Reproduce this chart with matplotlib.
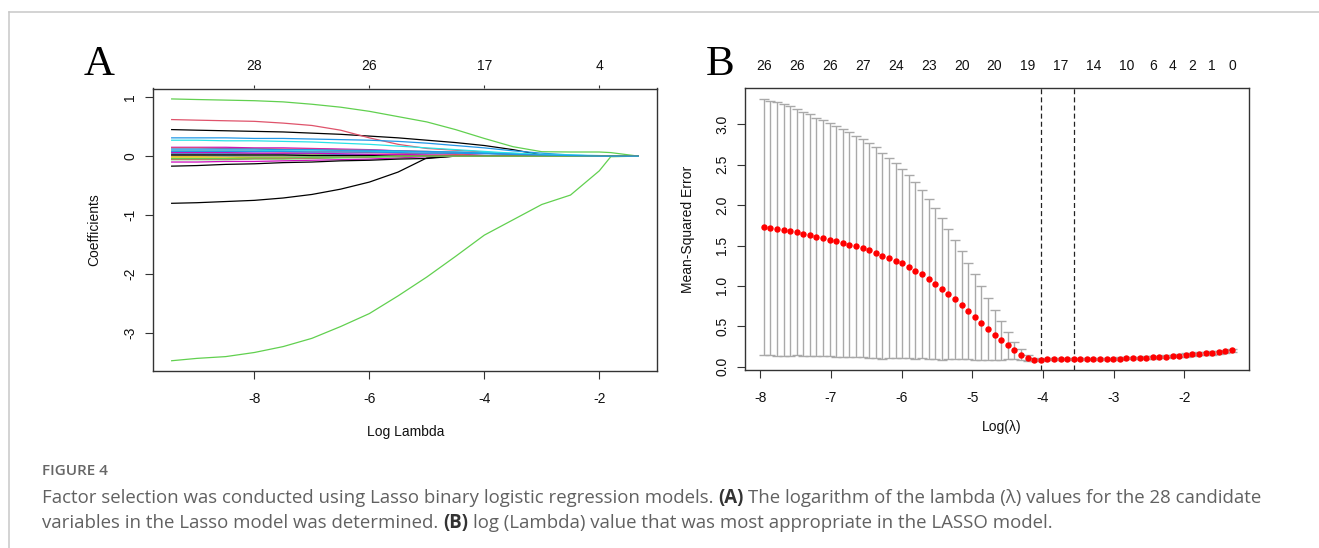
import numpy as np
import matplotlib
matplotlib.use('Agg')
import matplotlib.pyplot as plt
from matplotlib.lines import Line2D
from matplotlib.transforms import blended_transform_factory

W, H = 1319, 548

# ---------------- panel A : coefficient paths ----------------
knots = [-9.44, -9.0, -8.5, -8.0, -7.5, -7.0, -6.5, -6.0, -5.5, -5.0,
         -4.5, -4.0, -3.5, -3.0, -2.5, -2.0, -1.8, -1.32]

coef_paths = [
    [0.45, 0.44, 0.43, 0.42, 0.41, 0.39, 0.37, 0.34, 0.31, 0.27, 0.23, 0.18, 0.11, 0.02, 0, 0, 0, 0],
    [0.62, 0.61, 0.60, 0.59, 0.56, 0.52, 0.44, 0.31, 0.20, 0.13, 0.10, 0.07, 0.03, 0, 0, 0, 0, 0],
    [0.97, 0.96, 0.95, 0.94, 0.92, 0.88, 0.83, 0.76, 0.67, 0.58, 0.45, 0.30, 0.16, 0.075, 0.07, 0.07, 0.06, 0],
    [0.31, 0.31, 0.31, 0.30, 0.30, 0.29, 0.28, 0.27, 0.25, 0.22, 0.18, 0.14, 0.09, 0.05, 0.02, 0, 0, 0],
    [0.27, 0.27, 0.26, 0.26, 0.25, 0.24, 0.22, 0.20, 0.17, 0.14, 0.11, 0.08, 0.05, 0.02, 0, 0, 0, 0],
    [0.15, 0.15, 0.15, 0.14, 0.14, 0.13, 0.12, 0.11, 0.09, 0.07, 0.04, 0.01, 0, 0, 0, 0, 0, 0],
    [0.05, 0.05, 0.05, 0.04, 0.04, 0.03, 0.02, 0.01, 0, 0, 0, 0, 0, 0, 0, 0, 0, 0],
    [0.03, 0.03, 0.03, 0.02, 0.02, 0.01, 0, 0, 0, 0, 0, 0, 0, 0, 0, 0, 0, 0],
    [-0.80, -0.79, -0.77, -0.75, -0.71, -0.65, -0.56, -0.44, -0.27, -0.03, 0, 0, 0, 0, 0, 0, 0, 0],
    [0.14, 0.14, 0.13, 0.13, 0.12, 0.12, 0.11, 0.10, 0.09, 0.08, 0.06, 0.05, 0.03, 0.01, 0, 0, 0, 0],
    [-3.47, -3.43, -3.40, -3.33, -3.23, -3.09, -2.89, -2.67, -2.37, -2.05, -1.70, -1.34, -1.08, -0.82, -0.66, -0.25, -0.01, 0],
    [0.05, 0.05, 0.05, 0.05, 0.04, 0.04, 0.03, 0.03, 0.02, 0.01, 0, 0, 0, 0, 0, 0, 0, 0],
    [0.10, 0.10, 0.10, 0.10, 0.09, 0.09, 0.09, 0.08, 0.08, 0.07, 0.07, 0.06, 0.05, 0.03, 0.02, 0.01, 0, 0],
    [-0.10, -0.10, -0.09, -0.09, -0.08, -0.07, -0.06, -0.05, -0.03, -0.01, 0, 0, 0, 0, 0, 0, 0, 0],
    [-0.03, -0.03, -0.03, -0.02, -0.02, -0.01, 0, 0, 0, 0, 0, 0, 0, 0, 0, 0, 0, 0],
    [0.02, 0.02, 0.01, 0.01, 0, 0, 0, 0, 0, 0, 0, 0, 0, 0, 0, 0, 0, 0],
    [-0.17, -0.16, -0.14, -0.13, -0.11, -0.10, -0.08, -0.07, -0.05, -0.04, 0, 0, 0, 0, 0, 0, 0, 0],
    [0.08, 0.08, 0.08, 0.08, 0.07, 0.07, 0.07, 0.06, 0.05, 0.04, 0.03, 0.01, 0, 0, 0, 0, 0, 0],
    [-0.06, -0.06, -0.06, -0.05, -0.05, -0.04, -0.03, -0.02, -0.01, 0, 0, 0, 0, 0, 0, 0, 0, 0],
    [0.12, 0.12, 0.12, 0.12, 0.11, 0.11, 0.10, 0.10, 0.09, 0.08, 0.07, 0.05, 0.03, 0.01, 0, 0, 0, 0],
    [0.01, 0.01, 0.01, 0.01, 0.01, 0, 0, 0, 0, 0, 0, 0, 0, 0, 0, 0, 0, 0],
    [0.06, 0.06, 0.06, 0.05, 0.05, 0.05, 0.04, 0.03, 0.03, 0.02, 0.01, 0, 0, 0, 0, 0, 0, 0],
    [-0.01, -0.01, -0.01, 0, 0, 0, 0, 0, 0, 0, 0, 0, 0, 0, 0, 0, 0, 0],
    [0.01, 0.01, 0, 0, 0, 0, 0, 0, 0, 0, 0, 0, 0, 0, 0, 0, 0, 0],
    [0.02, 0.02, 0.02, 0.02, 0.02, 0.01, 0.01, 0.01, 0, 0, 0, 0, 0, 0, 0, 0, 0, 0],
    [-0.05, -0.05, -0.05, -0.04, -0.04, -0.03, -0.02, -0.01, 0, 0, 0, 0, 0, 0, 0, 0, 0, 0],
    [-0.04, -0.04, -0.04, -0.03, -0.03, -0.02, -0.02, -0.01, 0, 0, 0, 0, 0, 0, 0, 0, 0, 0],
    [0.08, 0.08, 0.08, 0.08, 0.08, 0.07, 0.07, 0.07, 0.06, 0.05, 0.05, 0.04, 0.03, 0.02, 0.01, 0, 0, 0],
]

ticks_a = [-8, -6, -4, -2]
df_a = [28, 26, 17, 4]

# ---------------- panel B : cross validation ----------------
# glmnet lambda path is evenly spaced in log scale
log_lambda = np.linspace(-7.953, -1.325, 72)

cv_mse = [1.729, 1.717, 1.705, 1.688, 1.675, 1.663, 1.646, 1.626, 1.605, 1.589,
          1.572, 1.552, 1.531, 1.510, 1.490, 1.465, 1.440, 1.411, 1.374, 1.345,
          1.312, 1.280, 1.238, 1.188, 1.144, 1.085, 1.027, 0.962, 0.900, 0.834,
          0.760, 0.693, 0.615, 0.541, 0.467, 0.396, 0.327, 0.264, 0.203, 0.149,
          0.111, 0.087, 0.086, 0.090, 0.091, 0.091, 0.092, 0.094, 0.095, 0.095,
          0.095, 0.096, 0.098, 0.099, 0.101, 0.104, 0.107, 0.110, 0.112, 0.116,
          0.120, 0.124, 0.132, 0.137, 0.145, 0.153, 0.161, 0.165, 0.170, 0.178,
          0.190, 0.203]

cv_sd = [1.580, 1.575, 1.567, 1.559, 1.547, 1.522, 1.510, 1.497, 1.477, 1.460,
         1.440, 1.427, 1.411, 1.395, 1.369, 1.349, 1.329, 1.304, 1.275, 1.242,
         1.209, 1.167, 1.135, 1.094, 1.039, 0.995, 0.937, 0.878, 0.808, 0.734,
         0.668, 0.594, 0.528, 0.454, 0.383, 0.310, 0.243, 0.170, 0.107, 0.066,
         0.035, 0.015, 0.012, 0.012, 0.012, 0.012, 0.012, 0.012, 0.013, 0.013,
         0.013, 0.013, 0.014, 0.014, 0.014, 0.015, 0.015, 0.015, 0.016, 0.016,
         0.017, 0.017, 0.018, 0.018, 0.019, 0.019, 0.020, 0.020, 0.021, 0.021,
         0.022, 0.022]

idx_min = 42
idx_1se = 47
nz_idx = [0, 5, 10, 15, 20, 25, 30, 35, 40, 45, 50, 55, 59, 62, 65, 68, 71]
nz_lab = [26, 26, 26, 27, 24, 23, 20, 20, 19, 17, 14, 10, 6, 4, 2, 1, 0]

r_pal = ['black', '#DF536B', '#61D04F', '#2297E6', '#28E2E5', '#CD0BBC', '#F5C710', '#9E9E9E']

plt.rcParams['font.family'] = ['Liberation Sans', 'DejaVu Sans']
plt.rcParams['font.size'] = 10
plt.rcParams['axes.unicode_minus'] = False

fig = plt.figure(figsize=(W / 100, H / 100), dpi=100)


def style_axes(ax):
    for s in ax.spines.values():
        s.set_color('#333333')
        s.set_linewidth(1.0)
    ax.tick_params(axis='both', direction='out', length=5.5, width=0.8, color='#333333',
                   labelsize=10, labelcolor='#111111')
    ax.tick_params(axis='x', pad=9.6)
    ax.tick_params(axis='y', pad=5.8, labelrotation=90)
    for lab in ax.get_yticklabels():
        lab.set_va('center')


# panel A
axA = fig.add_axes([153 / W, 1 - 370.7 / H, 504 / W, 282.2 / H])
for i, path in enumerate(coef_paths):
    axA.plot(knots, path, color=r_pal[i % 8], lw=0.9)
axA.set_xlim(-9.765, -0.995)
axA.set_ylim(-3.639, 1.147)
axA.set_xticks(ticks_a)
axA.set_yticks([-3, -2, -1, 0, 1])
style_axes(axA)
sec = axA.secondary_xaxis('top')
sec.set_xticks(ticks_a)
sec.set_xticklabels([''] * len(ticks_a))
sec.tick_params(length=2.4, width=0.8, color='#333333')
sec.spines['top'].set_visible(False)
trA = blended_transform_factory(axA.transData, axA.transAxes)
for x, lab in zip(ticks_a, df_a):
    axA.text(x, 1.067, str(lab), transform=trA, ha='center', va='baseline', fontsize=10, color='#111111')
axA.text((406 - 153) / 504, (370.7 - 432) / 282.2, 'Log Lambda', transform=axA.transAxes,
         ha='center', va='center', fontsize=10, color='#111111')
axA.text((94 - 153) / 504, 0.5, 'Coefficients', transform=axA.transAxes, rotation=90,
         ha='center', va='center', fontsize=10, color='#111111')

# panel B
axB = fig.add_axes([745 / W, 1 - 370 / H, 504.3 / W, 281.7 / H])
axB.errorbar(log_lambda, cv_mse, yerr=cv_sd, fmt='none', ecolor='#a9a9a9',
             elinewidth=1.0, capsize=3.4, capthick=1.0)
axB.plot(log_lambda, cv_mse, 'o', color='red', ms=3.6, mec='red', zorder=3)
axB.axvline(log_lambda[idx_min], color='#222222', ls=(0, (4, 2.5)), lw=0.9)
axB.axvline(log_lambda[idx_1se], color='#222222', ls=(0, (4, 2.5)), lw=0.9)
axB.set_xlim(-8.218, -1.08)
axB.set_ylim(-0.041, 3.446)
axB.set_xticks([-8, -7, -6, -5, -4, -3, -2])
axB.set_yticks([0.0, 0.5, 1.0, 1.5, 2.0, 2.5, 3.0])
axB.set_yticklabels(['0.0', '0.5', '1.0', '1.5', '2.0', '2.5', '3.0'])
style_axes(axB)
trB = blended_transform_factory(axB.transData, axB.transAxes)
for i, lab in zip(nz_idx, nz_lab):
    axB.text(log_lambda[i], 1.065, str(lab), transform=trB, ha='center', va='baseline',
             fontsize=10, color='#111111')
axB.text((1002 - 745) / 504.3, (370 - 427) / 281.7, 'Log(λ)', transform=axB.transAxes,
         ha='center', va='center', fontsize=10, color='#111111')
axB.text((687.7 - 745) / 504.3, 0.5, 'Mean-Squared Error', transform=axB.transAxes, rotation=90,
         ha='center', va='center', fontsize=10, color='#111111')

# panel letters
fig.text(99 / W, 1 - 75 / H, 'A', family='Liberation Serif', fontsize=31, ha='center', va='baseline')
fig.text(720 / W, 1 - 75 / H, 'B', family='Liberation Serif', fontsize=31, ha='center', va='baseline')

# frame lines of the figure box
fig.add_artist(Line2D([9.3 / W, 1], [1 - 11.7 / H] * 2, transform=fig.transFigure, color='#c8c8c8', lw=1.1))
fig.add_artist(Line2D([9.3 / W] * 2, [0, 1 - 11.7 / H], transform=fig.transFigure, color='#c8c8c8', lw=1.1))

# caption
cap_font = ['Open Sans', 'DejaVu Sans']
fig.text(41.7 / W, 1 - 475 / H, 'FIGURE 4', family=cap_font, fontsize=11, fontweight='semibold',
         color='#666666', va='baseline')

lines = [
    [("Factor selection was conducted using Lasso binary logistic regression models.", 'normal'),
     ("(A)", 'bold'),
     ("The logarithm of the lambda (λ) values for the 28 candidate", 'normal')],
    [("variables in the Lasso model was determined.", 'normal'),
     ("(B)", 'bold'),
     ("log (Lambda) value that was most appropriate in the LASSO model.", 'normal')],
]
baselines = [503.3, 528.3]
cap_size = 13.4
renderer = fig.canvas.get_renderer()
t1 = fig.text(0, 0, 'x x', family=cap_font, fontsize=cap_size)
t2 = fig.text(0, 0, 'xx', family=cap_font, fontsize=cap_size)
space_w = t1.get_window_extent(renderer).width - t2.get_window_extent(renderer).width
t1.remove()
t2.remove()
for runs, base in zip(lines, baselines):
    x = 41.7
    for text, weight in runs:
        col = '#333333' if weight == 'bold' else '#616161'
        t = fig.text(x / W, 1 - base / H, text, family=cap_font, fontsize=cap_size,
                     fontweight=weight, color=col, va='baseline')
        x += t.get_window_extent(renderer).width + space_w

fig.savefig('out.png', dpi=100)
